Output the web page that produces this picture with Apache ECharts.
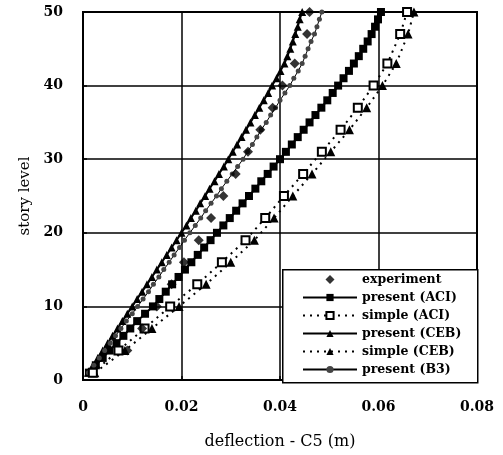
<!DOCTYPE html>
<html>
<head>
<meta charset="utf-8">
<script src="https://cdn.jsdelivr.net/npm/echarts@6/dist/echarts.min.js"></script>
<style>html,body{margin:0;padding:0;background:#fff}#c{width:503px;height:455px}</style>
</head>
<body>
<div id="c"></div>
<script>
// ---- data ----
const stories = Array.from({length: 50}, (_, i) => i + 1);
const sparseStories = [1, 4, 7, 10, 13, 16, 19, 22, 25, 28, 31, 34, 37, 40, 43, 47, 50];
const expStories = [4, 7, 10, 13, 16, 19, 22, 25, 28, 31, 34, 37, 40, 43, 47, 50];

const experiment = [0.0090, 0.0120, 0.0150, 0.0180, 0.0205, 0.0235, 0.0260, 0.0285, 0.0310, 0.0335, 0.0360, 0.0385, 0.0405, 0.0430, 0.0455, 0.0460];

const presentACI = [0.0012, 0.0026, 0.0040, 0.0054, 0.0068, 0.0082, 0.0096, 0.0110, 0.0126, 0.0142,
  0.0155, 0.0168, 0.0181, 0.0194, 0.0207, 0.0220, 0.0233, 0.0246, 0.0259, 0.0272,
  0.0285, 0.0298, 0.0311, 0.0324, 0.0337, 0.0350, 0.0362, 0.0375, 0.0387, 0.0400,
  0.0412, 0.0424, 0.0436, 0.0448, 0.0460, 0.0472, 0.0484, 0.0496, 0.0507, 0.0518,
  0.0529, 0.0540, 0.0550, 0.0560, 0.0569, 0.0578, 0.0586, 0.0593, 0.0599, 0.0605];

const simpleACI = [0.0020, 0.0072, 0.0125, 0.0177, 0.0232, 0.0282, 0.0330, 0.0370, 0.0408, 0.0447, 0.0485, 0.0523, 0.0558, 0.0590, 0.0618, 0.0644, 0.0658];

const presentCEB = [0.0010, 0.0020, 0.0030, 0.0040, 0.0050, 0.0060, 0.0070, 0.0080, 0.0090, 0.0100,
  0.0110, 0.0120, 0.0130, 0.0140, 0.0150, 0.0160, 0.0170, 0.0180, 0.0190, 0.0200,
  0.0210, 0.0219, 0.0229, 0.0238, 0.0248, 0.0257, 0.0267, 0.0276, 0.0286, 0.0295,
  0.0304, 0.0313, 0.0322, 0.0331, 0.0340, 0.0349, 0.0358, 0.0367, 0.0376, 0.0384,
  0.0393, 0.0401, 0.0409, 0.0415, 0.0421, 0.0426, 0.0431, 0.0436, 0.0440, 0.0445];

const simpleCEB = [0.0024, 0.0085, 0.0140, 0.0195, 0.0250, 0.0300, 0.0348, 0.0388, 0.0426, 0.0465, 0.0503, 0.0541, 0.0576, 0.0608, 0.0636, 0.0660, 0.0672];

const presentB3 = [0.0011, 0.0022, 0.0033, 0.0044, 0.0055, 0.0066, 0.0077, 0.0088, 0.0100, 0.0111,
  0.0122, 0.0133, 0.0143, 0.0154, 0.0164, 0.0175, 0.0185, 0.0196, 0.0206, 0.0217,
  0.0228, 0.0239, 0.0249, 0.0260, 0.0271, 0.0281, 0.0292, 0.0303, 0.0314, 0.0325,
  0.0334, 0.0344, 0.0353, 0.0362, 0.0372, 0.0381, 0.0391, 0.0400, 0.0410, 0.0420,
  0.0428, 0.0437, 0.0445, 0.0451, 0.0457, 0.0463, 0.0470, 0.0475, 0.0480, 0.0485];

const xTicks = [0, 0.02, 0.04, 0.06, 0.08];
const yTicks = [0, 10, 20, 30, 40, 50];
const seriesNames = ['experiment', 'present (ACI)', 'simple (ACI)', 'present (CEB)', 'simple (CEB)', 'present (B3)'];
const xTitle = 'deflection - C5 (m)';
const yTitle = 'story level';

// ---- chart ----
const pair = (xs, ys) => xs.map((v, i) => [v, ys[i]]);
const FONT = '"DejaVu Serif", "Liberation Serif", serif';
const chart = echarts.init(document.getElementById('c'), null, {renderer: 'canvas'});

chart.setOption({
  animation: false,
  backgroundColor: '#fff',
  grid: {left: 83, right: 26, top: 12, bottom: 73, show: true, borderColor: '#000', borderWidth: 2, backgroundColor: 'transparent'},
  xAxis: {
    type: 'value', min: xTicks[0], max: xTicks[xTicks.length - 1], interval: 0.02,
    name: xTitle, nameLocation: 'middle', nameGap: 54,
    nameTextStyle: {fontFamily: FONT, fontSize: 16, color: '#000'},
    axisLine: {show: true, lineStyle: {color: '#000', width: 2}},
    axisTick: {show: true, inside: true, length: 4, lineStyle: {color: '#000', width: 1.5}},
    axisLabel: {margin: 20, fontFamily: FONT, fontWeight: 'bold', fontSize: 14, color: '#000',
      formatter: v => String(+v.toFixed(2))},
    splitLine: {show: true, lineStyle: {color: '#000', width: 1.5}}
  },
  yAxis: {
    type: 'value', min: yTicks[0], max: yTicks[yTicks.length - 1], interval: 10,
    name: yTitle, nameLocation: 'middle', nameGap: 45, nameRotate: 90,
    nameTextStyle: {fontFamily: FONT, fontSize: 15, color: '#000'},
    axisLine: {show: true, lineStyle: {color: '#000', width: 2}},
    axisTick: {show: true, inside: true, length: 4, lineStyle: {color: '#000', width: 1.5}},
    axisLabel: {margin: 20, fontFamily: FONT, fontWeight: 'bold', fontSize: 14, color: '#000'},
    splitLine: {show: true, lineStyle: {color: '#000', width: 1.5}}
  },
  legend: {
    orient: 'vertical', left: 297, top: 268, padding: 5,
    itemWidth: 54, itemHeight: 9, itemGap: 5,
    textStyle: {fontFamily: FONT, fontWeight: 'bold', fontSize: 12.5, lineHeight: 13, color: '#000'},
    data: [
      {name: seriesNames[0], icon: 'path://M0,-1L1,0L0,1L-1,0Z'},
      seriesNames[1], seriesNames[2], seriesNames[3], seriesNames[4], seriesNames[5]
    ]
  },
  graphic: [{
    type: 'rect', left: 282, top: 269, z: 3,
    shape: {width: 195, height: 113},
    style: {fill: '#fff', stroke: '#000', lineWidth: 1.5}
  }],
  series: [
    {name: seriesNames[0], type: 'scatter', data: pair(experiment, expStories),
      symbol: 'diamond', symbolSize: 10, itemStyle: {color: '#000'}, z: 5},
    {name: seriesNames[1], type: 'line', data: pair(presentACI, stories),
      symbol: 'rect', symbolSize: 8, showAllSymbol: true,
      lineStyle: {color: '#000', width: 2}, itemStyle: {color: '#000'}},
    {name: seriesNames[2], type: 'line', data: pair(simpleACI, sparseStories),
      symbol: 'emptyRect', symbolSize: 8, showAllSymbol: true,
      lineStyle: {color: '#000', width: 2, type: [2, 5]}, itemStyle: {color: '#000', borderWidth: 2}, z: 4},
    {name: seriesNames[3], type: 'line', data: pair(presentCEB, stories),
      symbol: 'triangle', symbolSize: 8, showAllSymbol: true,
      lineStyle: {color: '#000', width: 2}, itemStyle: {color: '#000'}},
    {name: seriesNames[4], type: 'line', data: pair(simpleCEB, sparseStories),
      symbol: 'triangle', symbolSize: 9, showAllSymbol: true,
      lineStyle: {color: '#000', width: 2, type: [2, 5]}, itemStyle: {color: '#000'}},
    {name: seriesNames[5], type: 'line', data: pair(presentB3, stories),
      symbol: 'circle', symbolSize: 5, showAllSymbol: true,
      lineStyle: {color: '#000', width: 1}, itemStyle: {color: '#444'}}
  ]
});
</script>
</body>
</html>
